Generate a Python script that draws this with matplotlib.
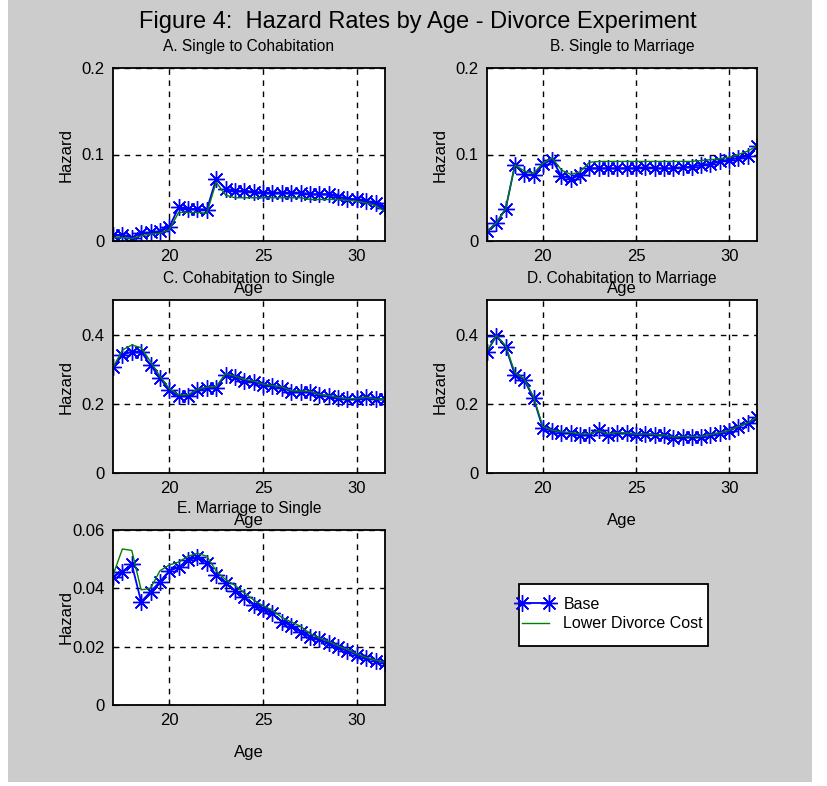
import matplotlib
matplotlib.use('Agg')
import matplotlib.pyplot as plt
from matplotlib.patches import Rectangle
import numpy as np

plt.rcParams['font.family'] = ['Liberation Sans', 'DejaVu Sans']

# ages 17 .. 31.5 in half-year steps
ages = np.arange(17, 32, 0.5)

# A. Single to Cohabitation
a_base = [0.007, 0.007, 0.004, 0.009, 0.010, 0.011, 0.016, 0.039, 0.037, 0.037,
          0.036, 0.072, 0.060, 0.058, 0.058, 0.057, 0.056, 0.056, 0.056, 0.056,
          0.056, 0.054, 0.054, 0.054, 0.051, 0.049, 0.048, 0.046, 0.044, 0.038]
a_low = [0.004, 0.004, 0.003, 0.006, 0.008, 0.009, 0.013, 0.033, 0.033, 0.033,
         0.032, 0.068, 0.053, 0.050, 0.050, 0.050, 0.050, 0.050, 0.050, 0.050,
         0.050, 0.048, 0.048, 0.048, 0.048, 0.047, 0.046, 0.044, 0.041, 0.034]

# B. Single to Marriage
b_base = [0.011, 0.021, 0.037, 0.088, 0.077, 0.076, 0.089, 0.094, 0.075, 0.072,
          0.076, 0.084, 0.084, 0.084, 0.084, 0.084, 0.084, 0.085, 0.084, 0.084,
          0.084, 0.085, 0.086, 0.088, 0.089, 0.092, 0.094, 0.096, 0.098, 0.110]
b_low = [0.011, 0.021, 0.037, 0.088, 0.081, 0.078, 0.090, 0.096, 0.082, 0.077,
         0.080, 0.091, 0.092, 0.092, 0.092, 0.092, 0.092, 0.092, 0.092, 0.092,
         0.092, 0.092, 0.092, 0.093, 0.094, 0.095, 0.097, 0.100, 0.104, 0.110]

# C. Cohabitation to Single
c_base = [0.305, 0.341, 0.351, 0.351, 0.312, 0.274, 0.240, 0.222, 0.223, 0.240,
          0.245, 0.247, 0.283, 0.277, 0.267, 0.264, 0.254, 0.251, 0.247, 0.235,
          0.235, 0.235, 0.225, 0.222, 0.216, 0.213, 0.214, 0.219, 0.213, 0.213]
c_low = [0.305, 0.355, 0.370, 0.362, 0.322, 0.280, 0.244, 0.226, 0.226, 0.242,
         0.248, 0.250, 0.287, 0.280, 0.271, 0.266, 0.257, 0.253, 0.249, 0.238,
         0.237, 0.236, 0.227, 0.224, 0.218, 0.215, 0.215, 0.219, 0.214, 0.213]

# D. Cohabitation to Marriage
d_base = [0.351, 0.396, 0.365, 0.283, 0.269, 0.216, 0.129, 0.122, 0.117, 0.115,
          0.110, 0.110, 0.124, 0.110, 0.117, 0.115, 0.110, 0.113, 0.110, 0.110,
          0.100, 0.105, 0.105, 0.105, 0.110, 0.115, 0.122, 0.134, 0.144, 0.161]
d_low = [0.351, 0.398, 0.368, 0.290, 0.272, 0.220, 0.134, 0.124, 0.119, 0.117,
         0.113, 0.113, 0.122, 0.113, 0.117, 0.116, 0.112, 0.113, 0.111, 0.110,
         0.104, 0.106, 0.106, 0.106, 0.111, 0.116, 0.123, 0.135, 0.145, 0.161]

# E. Marriage to Single
e_base = [0.0440, 0.0457, 0.0483, 0.0354, 0.0388, 0.0423, 0.0460, 0.0472, 0.0497, 0.0506,
          0.0488, 0.0446, 0.0417, 0.0392, 0.0371, 0.0343, 0.0328, 0.0314, 0.0286, 0.0271,
          0.0251, 0.0234, 0.0225, 0.0211, 0.0198, 0.0185, 0.0171, 0.0160, 0.0152, 0.0145]
e_low = [0.0445, 0.0535, 0.0530, 0.0395, 0.0400, 0.0460, 0.0480, 0.0490, 0.0510, 0.0520,
         0.0510, 0.0460, 0.0430, 0.0410, 0.0385, 0.0360, 0.0340, 0.0325, 0.0300, 0.0285,
         0.0270, 0.0245, 0.0230, 0.0218, 0.0203, 0.0190, 0.0175, 0.0163, 0.0154, 0.0146]

panels = [
    ('A. Single to Cohabitation', a_base, a_low, [0, 0.1, 0.2], ['0', '0.1', '0.2']),
    ('B. Single to Marriage', b_base, b_low, [0, 0.1, 0.2], ['0', '0.1', '0.2']),
    ('C. Cohabitation to Single', c_base, c_low, [0, 0.2, 0.4], ['0', '0.2', '0.4']),
    ('D. Cohabitation to Marriage', d_base, d_low, [0, 0.2, 0.4], ['0', '0.2', '0.4']),
    ('E. Marriage to Single', e_base, e_low, [0, 0.02, 0.04, 0.06], ['0', '0.02', '0.04', '0.06']),
]
ylims = [0.2, 0.2, 0.5, 0.5, 0.06]

W, H = 828, 786
# axes boxes in pixels: left, top, right, bottom
boxes = [(113, 68, 385, 241), (487, 68, 757, 241),
         (113, 300, 385, 473), (487, 300, 757, 473),
         (113, 530, 385, 705)]

# matlab style '*' marker: eight spokes
star = (8, 2, 0)

fig = plt.figure(figsize=(W / 100, H / 100), dpi=100)
fig.patch.set_facecolor('white')
# grey matlab window area, screenshot has a thin white margin right/bottom
fig.patches.append(Rectangle((8 / W, 1 - 782 / H), 804 / W, 782 / H,
                             transform=fig.transFigure, facecolor='#cccccc',
                             edgecolor='none', zorder=-5))

for (title, base, low, yt, ytl), ymax, (l, t, r, b) in zip(panels, ylims, boxes):
    ax = fig.add_axes([l / W, 1 - b / H, (r - l) / W, (b - t) / H])
    hb, = ax.plot(ages, base, color='#0000ff', marker=star, markersize=12,
                  markeredgewidth=1.0, linewidth=1.3, label='Base')
    hl, = ax.plot(ages, low, color='#008000', linewidth=1.0, label='Lower Divorce Cost')
    ax.set_xlim(17, 31.5)
    ax.set_ylim(0, ymax)
    ax.set_xticks([20, 25, 30])
    ax.set_xticklabels(['20', '25', '30'])
    ax.set_yticks(yt)
    ax.set_yticklabels(ytl)
    ax.grid(True, color='black', linestyle=(0, (4, 4)), linewidth=1.0)
    ax.tick_params(direction='in', length=4, labelsize=12, pad=6)
    for s in ax.spines.values():
        s.set_linewidth(1.3)
    ax.set_title(title, fontsize=11.2, pad=12)
    ax.set_xlabel('Age', fontsize=12)
    ax.set_ylabel('Hazard', fontsize=12)
    ax.xaxis.set_label_coords(0.5, -0.23)
    ax.yaxis.set_label_coords(-0.145, 0.5)

# legend box drawn separately so its padding can follow the reference
fig.patches.append(Rectangle((519 / W, 1 - 646 / H), 189 / W, 62 / H,
                             transform=fig.transFigure, facecolor='white',
                             edgecolor='black', linewidth=1.3, zorder=1))
leg = fig.legend([hb, hl], ['Base', 'Lower Divorce Cost'], loc='center left',
                 bbox_to_anchor=(517 / W, 1 - 614 / H), fontsize=11.5,
                 frameon=False, numpoints=2, handlelength=2.3, borderpad=0,
                 borderaxespad=0, labelspacing=0.3, handletextpad=0.6)
leg.set_zorder(3)

fig.text(0.505, 1 - 22 / H, 'Figure 4:  Hazard Rates by Age - Divorce Experiment',
         ha='center', va='center', fontsize=17)

fig.savefig('out.png', dpi=100, facecolor=fig.get_facecolor())
